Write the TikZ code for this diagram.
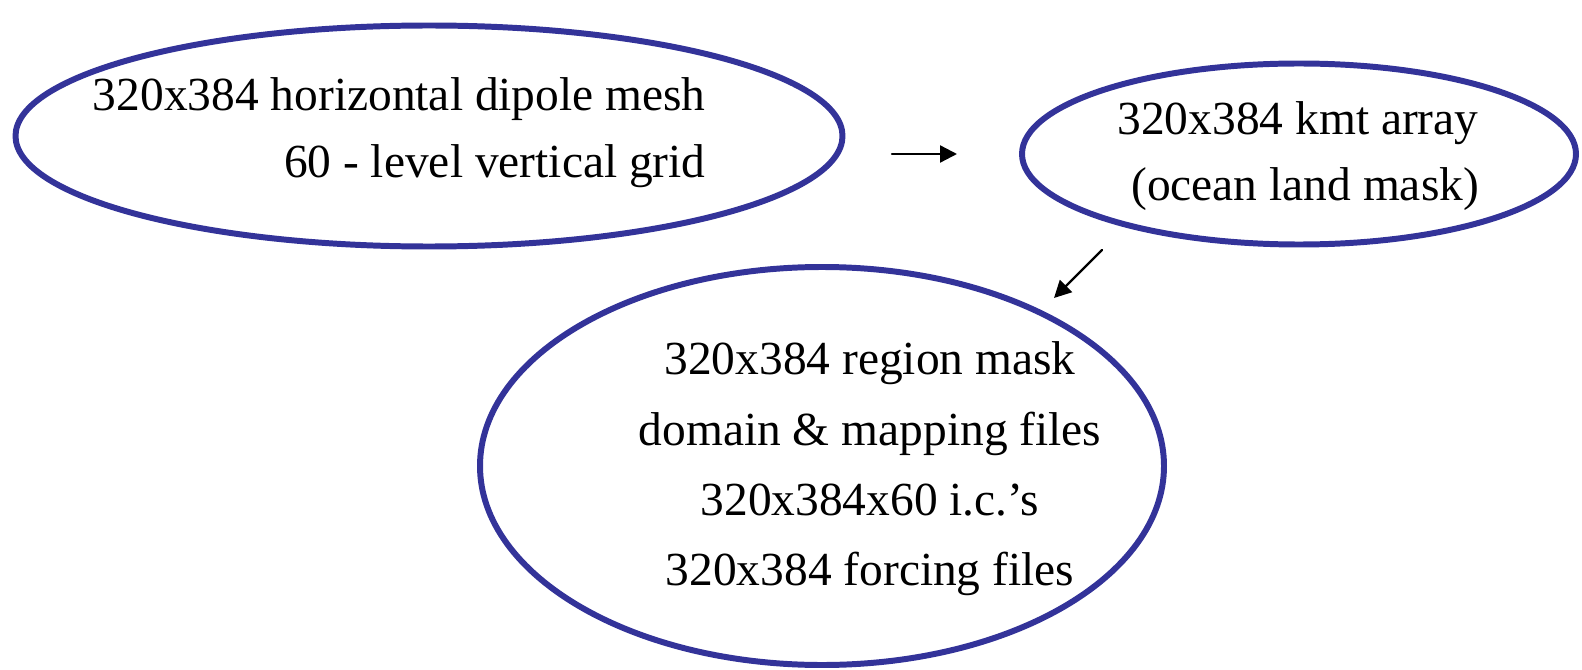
\documentclass[tikz,border=0pt]{standalone}
\usepackage{fontspec}
\setmainfont{Liberation Serif}
\usetikzlibrary{arrows.meta,shapes.geometric}
\definecolor{ovalblue}{RGB}{51,51,153}
\begin{document}
\begin{tikzpicture}[line cap=round,line join=round,>={Triangle[length=0.34cm,width=0.34cm]},x=1.0cm,y=1.0cm,
	oval/.style={draw=ovalblue,line width=3.4pt,ellipse,inner sep=0pt},
	label/.style={font=\fontsize{27}{38}\selectfont,inner sep=0pt}]
			\useasboundingbox (0,0) rectangle (31.64,-13.4);
			\node [oval,minimum width=16.54cm,minimum height=4.42cm] (mesh) at (8.58,-2.72) {};
			\node [oval,minimum width=11.08cm,minimum height=3.62cm] (kmt) at (25.98,-3.08) {};
			\node [oval,minimum width=13.68cm,minimum height=7.96cm] (files) at (16.44,-9.32) {};
			\node [label,align=right,anchor=east] (meshtext) at (14.12,-2.66) {320x384 horizontal dipole mesh\\60 - level vertical grid};
			\node [label,align=center] (kmttext) at (25.96,-3.12) {320x384 kmt array\\\hspace{0.3em}(ocean land mask)};
			\node [label,align=center,font=\fontsize{27}{40}\selectfont] (filestext) at (17.4,-9.38) {320x384 region mask\\domain \& mapping files\\320x384x60 i.c.’s\\320x384 forcing files};
			\coordinate (a1) at (17.84,-3.08);
			\coordinate (b1) at (19.14,-3.08);
			\coordinate (a2) at (22.04,-5.0);
			\coordinate (b2) at (21.08,-5.96);
			\draw [->,line width=1.3pt] (a1) -- (b1);
			\draw [->,line width=1.3pt] (a2) -- (b2);
		\end{tikzpicture}
\end{document}
